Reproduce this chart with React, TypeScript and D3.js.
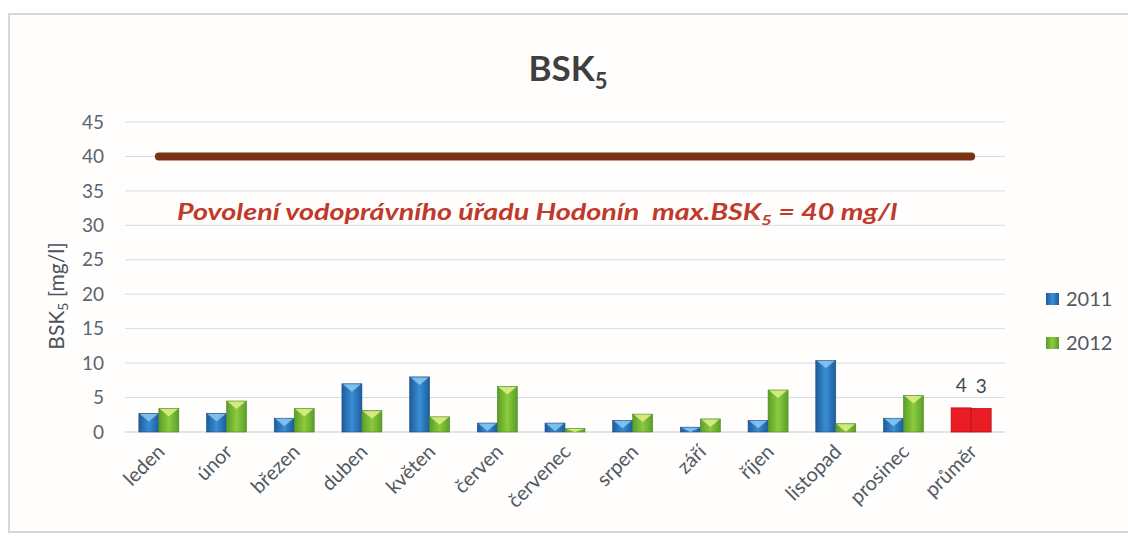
import React from "react";
import * as d3 from "d3";

const categories = ["leden","únor","březen","duben","květen","červen","červenec","srpen","září","říjen","listopad","prosinec","průměr"];
const series = ["2011", "2012"];
const values2011 = [2.7, 2.7, 2.0, 7.0, 8.0, 1.3, 1.3, 1.7, 0.7, 1.7, 10.4, 2.0, 3.5];
const values2012 = [3.4, 4.5, 3.4, 3.1, 2.2, 6.6, 0.5, 2.6, 1.9, 6.1, 1.2, 5.3, 3.4];
const avgLabels = ["4", "3"];
const limitValue = 40;
const yTicks = [0, 5, 10, 15, 20, 25, 30, 35, 40, 45];

const W = 1128, H = 546;
const FONT = "Lato, 'Open Sans', sans-serif";

export default function App() {
  const x = d3.scaleBand<string>().domain(categories).range([125, 1005]);
  const y = d3.scaleLinear().domain([0, 45]).range([432, 122]);
  const groupW = 40;
  const xs = d3.scaleBand<string>().domain(series).range([-groupW / 2, groupW / 2]);
  const bw = xs.bandwidth();
  const data = [values2011, values2012];
  const line = d3.line<string>().x(c => (x(c) as number) + x.bandwidth() / 2).y(() => y(limitValue));

  const bar = (cat: string, i: number, s: number) => {
    const v = data[s][i];
    const cx = (x(cat) as number) + x.bandwidth() / 2;
    const x0 = cx + (xs(series[s]) as number);
    const y0 = y(v), y1 = y(0);
    const isAvg = cat === "průměr";
    if (isAvg) {
      return (
        <g key={cat + s}>
          <rect x={x0} y={y0} width={bw} height={y1 - y0} fill="#ec1c24" stroke="#b01018" strokeWidth={0.8} />
          <text x={x0 + bw / 2} y={y0 - 16} textAnchor="middle" fontSize={19} fill="#404a55" fontFamily={FONT}>{avgLabels[s]}</text>
        </g>
      );
    }
    const tri = Math.min(8, (y1 - y0));
    return (
      <g key={cat + s}>
        <rect x={x0} y={y0} width={bw} height={y1 - y0} fill={s === 0 ? "url(#gBlue)" : "url(#gGreen)"} stroke={s === 0 ? "#1c4f86" : "#4a8a22"} strokeWidth={0.6} />
        <path d={`M${x0 + 1},${y0 + 0.5} L${x0 + bw - 1},${y0 + 0.5} L${x0 + bw / 2},${y0 + tri} Z`} fill={s === 0 ? "#8cc8f2" : "#e2f08a"} opacity={0.85} />
      </g>
    );
  };

  return (
    <svg width={W} height={H} style={{ position: "absolute", left: 0, top: 0, background: "#fff" }} fontFamily={FONT}>
      <defs>
        <linearGradient id="gBlue" x1="0" x2="1" y1="0" y2="0">
          <stop offset="0" stopColor="#1d5c9c" />
          <stop offset="0.5" stopColor="#3a8ed4" />
          <stop offset="1" stopColor="#1d5c9c" />
        </linearGradient>
        <linearGradient id="gGreen" x1="0" x2="1" y1="0" y2="0">
          <stop offset="0" stopColor="#5a9e2a" />
          <stop offset="0.5" stopColor="#8ccb3c" />
          <stop offset="1" stopColor="#5a9e2a" />
        </linearGradient>
      </defs>
      <rect x={9} y={14} width={1130} height={518} fill="#fffefd" stroke="#d3d9de" strokeWidth={2} />
      <text x={568} y={81} textAnchor="middle" fontSize={35} fontWeight="bold" fill="#3f3f3f">
        BSK<tspan fontSize={22} dy={8}>5</tspan>
      </text>
      {yTicks.map(t => (
        <g key={t}>
          {t > 0 && <line x1={125} x2={1005} y1={y(t)} y2={y(t)} stroke="#cfdde9" strokeWidth={1} />}
          <text x={104} y={y(t)} dy="0.35em" textAnchor="end" fontSize={19} fill="#5b6570">{t}</text>
        </g>
      ))}
      <line x1={125} x2={1005} y1={y(0)} y2={y(0)} stroke="#c4ccd4" strokeWidth={1.2} />
      <text transform={`translate(64,296) rotate(-90)`} textAnchor="middle" fontSize={21} fill="#4a535c">
        BSK<tspan fontSize={14} dy={4}>5</tspan><tspan dy={-4}> [mg/l]</tspan>
      </text>
      <path d={line(categories) || ""} stroke="#7a3214" strokeWidth={8} strokeLinecap="round" fill="none" />
      <text x={177} y={220} fontSize={22} fontWeight="bold" fontStyle="italic" fill="#c0392b" textLength={720} lengthAdjust="spacingAndGlyphs" style={{ whiteSpace: "pre" }}>
        {"Povolení vodoprávního úřadu Hodonín  max.BSK"}<tspan fontSize={14} dy={5}>5</tspan><tspan dy={-5}>{" = 40 mg/l"}</tspan>
      </text>
      {categories.map((c, i) => (
        <g key={c}>
          {bar(c, i, 0)}
          {bar(c, i, 1)}
        </g>
      ))}
      {categories.map(c => {
        const cx = (x(c) as number) + x.bandwidth() / 2;
        return (
          <text key={c} transform={`translate(${cx + 7},${453}) rotate(-45)`} textAnchor="end" fontSize={20} fill="#4f5963">{c}</text>
        );
      })}
      {series.map((s, i) => (
        <g key={s} transform={`translate(1046,${293 + i * 44})`}>
          <rect width={13} height={12} fill={i === 0 ? "url(#gBlue)" : "url(#gGreen)"} />
          <text x={20} y={6} dy="0.36em" fontSize={20} fill="#4f5963">{s}</text>
        </g>
      ))}
    </svg>
  );
}
